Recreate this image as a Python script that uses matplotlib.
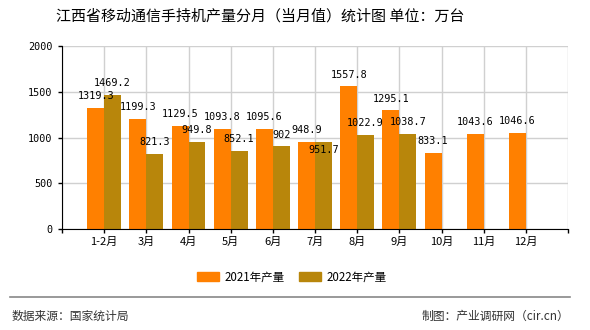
import numpy as np
import matplotlib.pyplot as plt
from matplotlib.lines import Line2D
from matplotlib.patches import Patch

plt.rcParams['font.family'] = ['Noto Sans CJK SC', 'DejaVu Sans']

months = ["1-2月", "3月", "4月", "5月", "6月", "7月", "8月", "9月", "10月", "11月", "12月"]
prod_2021 = [1319.3, 1199.3, 1129.5, 1093.8, 1095.6, 948.9, 1557.8, 1295.1, 833.1, 1043.6, 1046.6]
prod_2022 = [1469.2, 821.3, 949.8, 852.1, 902, 951.7, 1022.9, 1038.7]
yticks = [0, 500, 1000, 1500, 2000]

C21 = "#FF8000"
C22 = "#B8860B"
MONO = ["DejaVu Sans Mono"]

fig = plt.figure(figsize=(5.9, 3.3), dpi=100)
ax = fig.add_axes([62 / 590, 1 - 229 / 330, (568 - 62) / 590, (229 - 46) / 330])

x = np.arange(len(months))
w = 0.4
ax.bar(x[:len(prod_2021)] - w / 2, prod_2021, w, color=C21, zorder=2)
ax.bar(x[:len(prod_2022)] + w / 2, prod_2022, w, color=C22, zorder=2)

def fmt(v):
    return f"{v:g}"

for i, v in enumerate(prod_2021):
    ax.annotate(fmt(v), (i - w / 2, v), xytext=(0, 8.6), textcoords="offset points",
                ha="center", va="center", fontsize=7.3, family=MONO, zorder=3)
for i, v in enumerate(prod_2022):
    # push label under the bar top when it would collide with the 2021 label
    dy = -5.8 if abs(v - prod_2021[i]) < 60 else 8.6
    ax.annotate(fmt(v), (i + w / 2, v), xytext=(0, dy), textcoords="offset points",
                ha="center", va="center", fontsize=7.3, family=MONO, zorder=3)

ax.set_xlim(-1, len(months))
ax.set_ylim(0, 2000)
ax.set_xticks(range(-1, len(months) + 1))
ax.set_xticklabels([""] + months + [""], fontsize=8)
ax.set_yticks(yticks)
ax.set_yticklabels([str(t) for t in yticks], family=MONO, fontsize=7.3)
ax.tick_params(axis="both", length=3, width=1, color="black")
ax.tick_params(axis="x", pad=3)
ax.tick_params(axis="y", pad=4)
ax.grid(True, color="#d0d0d0", linewidth=1, zorder=0)
ax.set_axisbelow(True)
for s in ["top", "right"]:
    ax.spines[s].set_visible(False)
ax.spines["left"].set_color("black")
ax.spines["bottom"].set_color("black")

fig.text(260 / 590, 1 - 16 / 330, "江西省移动通信手持机产量分月（当月值）统计图 单位：万台",
         ha="center", va="center", fontsize=10.8)

handles = [Patch(color=C21, label="2021年产量"), Patch(color=C22, label="2022年产量")]
fig.legend(handles=handles, loc="center", bbox_to_anchor=(292 / 590, 1 - 277 / 330), ncol=2,
           frameon=False, fontsize=8.3, handlelength=1.9, handleheight=0.75,
           columnspacing=1.2, handletextpad=0.5)

fig.add_artist(Line2D([10 / 590, 570 / 590], [1 - 297 / 330] * 2, color="#888888",
                      linewidth=1.2, transform=fig.transFigure))
fig.text(12 / 590, 1 - 316 / 330, "数据来源：国家统计局", ha="left", va="center",
         fontsize=8.5, color="#333333")
fig.text(569 / 590, 1 - 316 / 330, "制图：产业调研网（cir.cn）", ha="right", va="center",
         fontsize=8.5, color="#333333")

fig.savefig("out.png", dpi=100)
